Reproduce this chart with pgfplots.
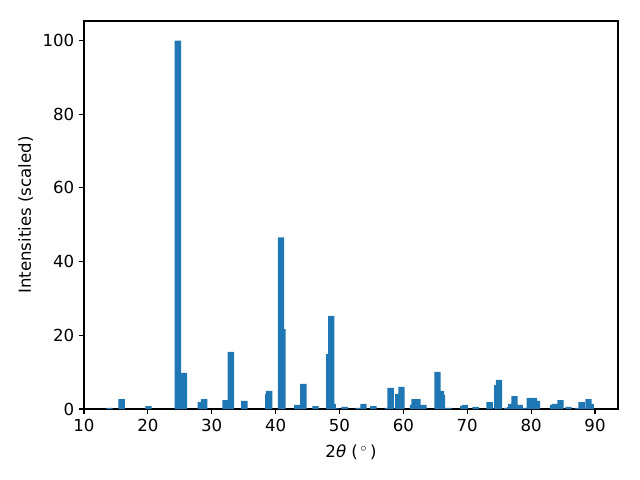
\documentclass[border=0pt]{standalone}
\usepackage{fontspec}
\setmainfont{DejaVu Sans}
\usepackage{pgfplots}
\pgfplotsset{compat=1.18}
\definecolor{mplblue}{HTML}{1F77B4}
\begin{document}
\begin{tikzpicture}
\begin{axis}[
  scale only axis,
  width=5.34in, height=3.88in,
  xmin=10, xmax=93.6, ymin=0, ymax=105.3,
  xtick={10,20,...,90}, ytick={0,20,...,100},
  xtick pos=left, ytick pos=left,
  tick align=outside,
  major tick length=3.5pt,
  tick style={black, line width=0.8pt},
  axis line style={line width=0.8pt},
  /pgf/number format/assume math mode=true,
  ticklabel style={font=\fontsize{12}{14}\selectfont},
  label style={font=\fontsize{12}{14}\selectfont},
  xlabel={2\textit{θ} (\,${}^\circ$\,)},
  xlabel style={yshift=-3pt},
  ylabel={Intensities (scaled)},
  ybar, bar width=1, bar shift=0pt,
]
\addplot[fill=mplblue, draw=none] coordinates {
(14.0,0.3) (15.9,2.7) (20.1,0.8) (24.7,100) (25.65,9.8)
(28.3,1.9) (28.8,2.7) (32.15,2.4) (33.0,15.5) (35.1,2.2)
(38.84,4.1) (38.99,4.9) (40.85,46.6) (41.05,21.7) (43.4,1.1)
(43.9,0.3) (44.35,6.8) (46.25,0.8) (48.4,14.9) (48.7,25.3)
(48.95,1.4) (49.4,0.2) (50.8,0.6) (52.97,0.3) (53.76,1.4)
(55.3,0.8) (57.6,0.3) (58.0,5.7) (59.2,4.1) (59.7,6.0)
(61.5,1.1) (61.75,2.7) (62.2,2.7) (63.15,1.1) (65.34,10.1)
(65.86,4.9) (66.02,3.8) (67.06,0.3) (69.4,0.8) (69.6,1.1)
(71.3,0.6) (73.5,1.9) (74.69,6.5) (74.97,7.9) (76.25,0.3)
(76.7,0.6) (76.9,1.4) (77.4,3.5) (78.2,1.1) (78.7,0.3)
(79.8,3.0) (80.45,3.0) (80.9,2.2) (83.45,1.1) (83.71,1.4)
(84.6,2.4) (85.85,0.6) (87.37,0.3) (87.9,1.9) (88.1,0.3)
(88.98,2.7) (89.34,1.4)
};
\end{axis}
\path[use as bounding box] (current axis.south west) ++(-0.84in,-0.71in) rectangle ++(6.4in,4.8in);
\end{tikzpicture}
\end{document}
